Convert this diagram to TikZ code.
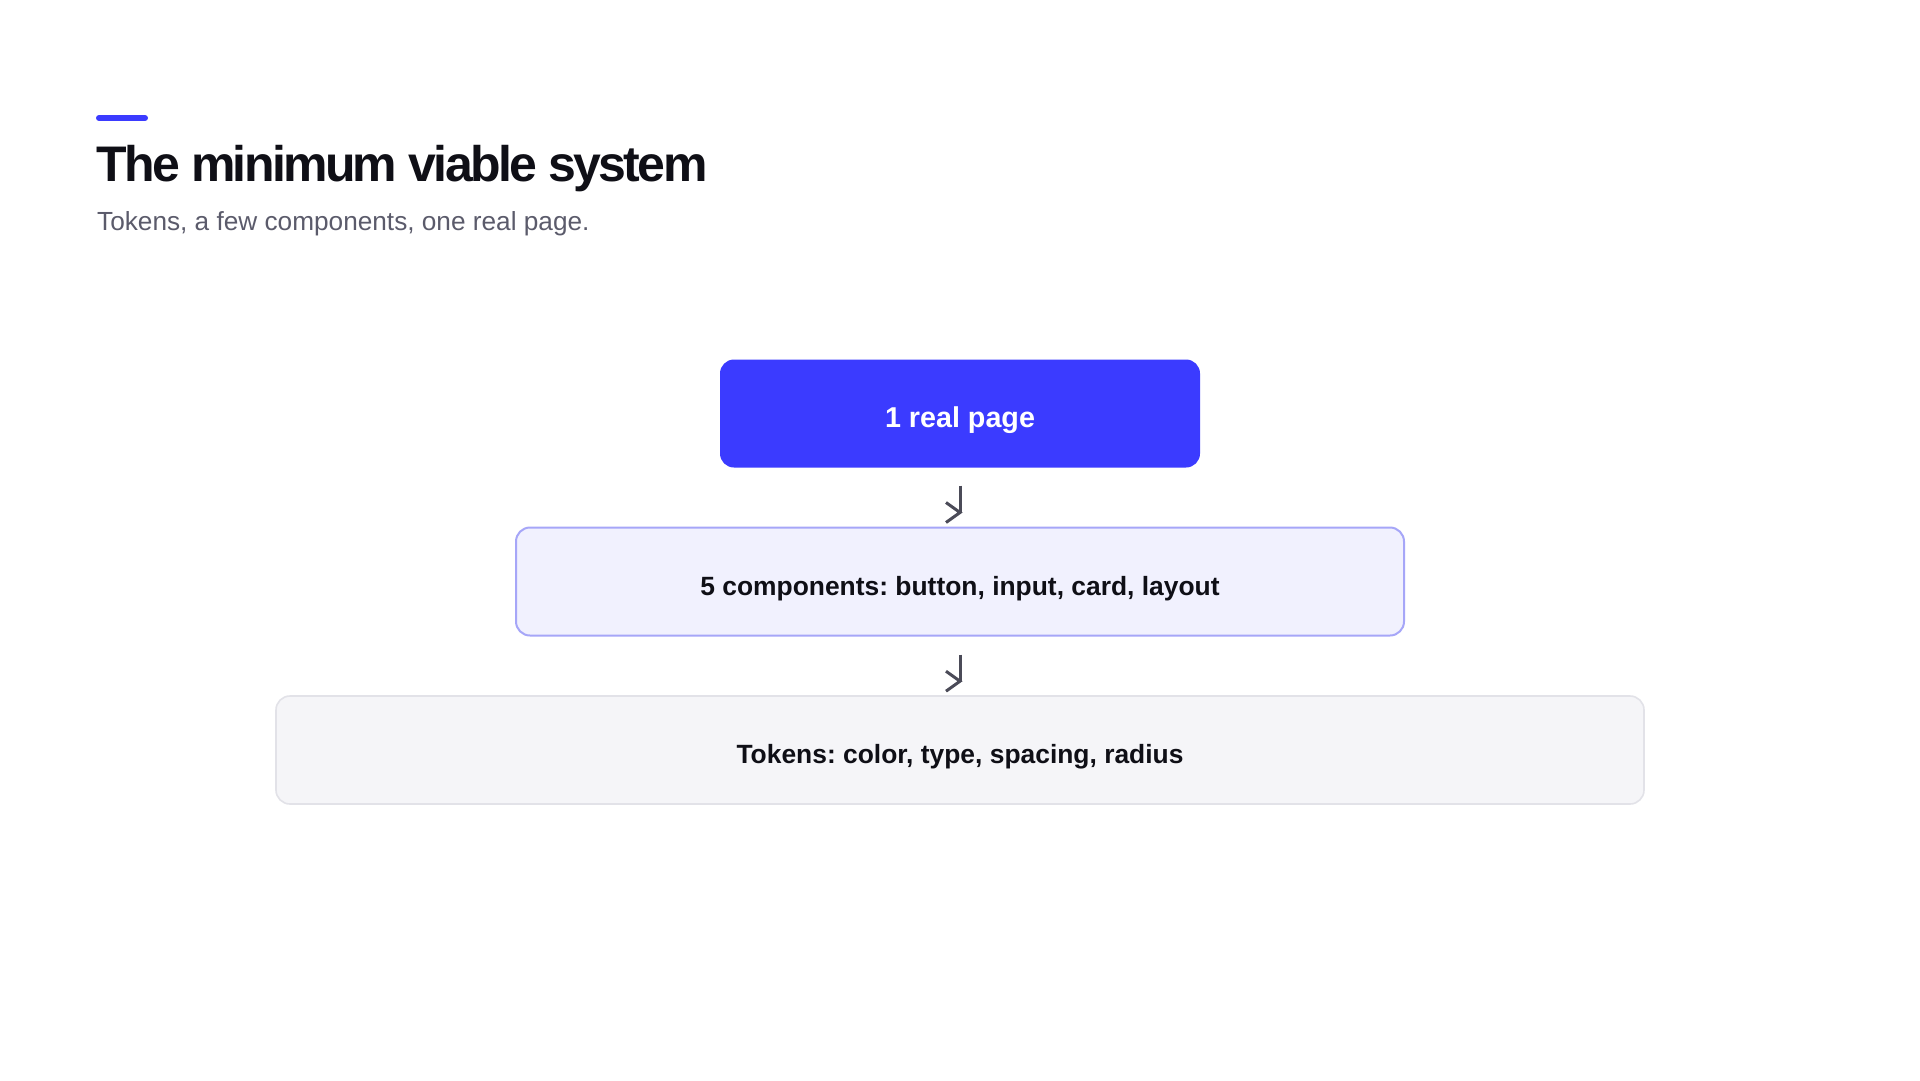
\documentclass[tikz,border=0pt]{standalone}
\usepackage{fontspec}
\setmainfont{Liberation Sans}
\newfontfamily\titlefont[LetterSpace=-5.3]{Liberation Sans}
\definecolor{accent}{HTML}{3B3BFF}
\definecolor{ink}{HTML}{0F0F16}
\definecolor{subgray}{HTML}{5B5B6B}
\definecolor{midfill}{HTML}{F1F1FE}
\definecolor{midline}{HTML}{A6A6F8}
\definecolor{lowfill}{HTML}{F5F5F8}
\definecolor{lowline}{HTML}{E2E2E8}
\definecolor{arrowgray}{HTML}{4B4B58}
\tikzset{
  card/.style={rounded corners=14pt, minimum height=108pt, inner sep=0pt,
    text depth=0pt, text height=27pt, text=ink,
    font=\bfseries\fontsize{26.4}{30}\selectfont},
  pagecard/.style={card, fill=accent, draw=none, text=white,
    font=\bfseries\fontsize{28.7}{32}\selectfont, text height=28pt},
  midcard/.style={card, fill=midfill, draw=midline, line width=2pt},
  lowcard/.style={card, fill=lowfill, draw=lowline, line width=1.6pt},
  conn/.style={draw=arrowgray, line width=3pt},
}
\begin{document}
\frenchspacing
\begin{tikzpicture}[x=1pt, y=-1pt]
\useasboundingbox[fill=white] (0,0) rectangle (1920,1080);
% accent bar
\draw[accent, line width=6pt, line cap=round] (99,118) -- (145,118);
% title and subtitle
\node[anchor=base west, inner sep=0pt, text=ink,
  font=\titlefont\bfseries\fontsize{50}{56}\selectfont] (title) at (96,181) {The minimum viable system};
\node[anchor=base west, inner sep=0pt, text=subgray,
  font=\fontsize{26.2}{30}\selectfont] (subtitle) at (97,230.5) {Tokens, a few components, one real page.};
% boxes
\node[pagecard, minimum width=480pt] (page) at (960,413.5) {1 real page};
\node[midcard, minimum width=888pt] (mid) at (960,581.5) {5 components: button, input, card, layout};
\node[lowcard, minimum width=1368pt] (low) at (960,750) {Tokens: color, type, spacing, radius};
% connectors
\draw[conn, shorten <=18pt, shorten >=14pt] (page) -- (mid);
\draw[conn] ([shift={(-14,-24)}]mid.north) -- ([shift={(0,-14)}]mid.north) -- ([shift={(-14,-4)}]mid.north);
\draw[conn, shorten <=18pt, shorten >=14pt] (mid) -- (low);
\draw[conn] ([shift={(-14,-24)}]low.north) -- ([shift={(0,-14)}]low.north) -- ([shift={(-14,-4)}]low.north);
\end{tikzpicture}
\end{document}
